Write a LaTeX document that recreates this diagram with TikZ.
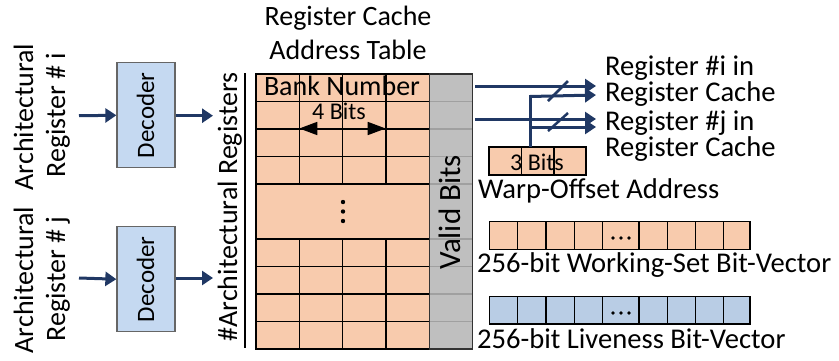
\documentclass[tikz,border=0pt]{standalone}
\usepackage{fontspec}
\setmainfont{Carlito}
\usetikzlibrary{arrows.meta}
\definecolor{orng}{HTML}{F8CBAD}
\definecolor{lblue}{HTML}{C5D9F1}
\definecolor{vblue}{HTML}{B9CDE5}
\definecolor{gry}{HTML}{BFBFBF}
\definecolor{gline}{HTML}{A0A0A0}
\definecolor{navy}{HTML}{203864}
\begin{document}
\begin{tikzpicture}[x=1pt,y=-1pt,
  txt/.style={font=\fontsize{28}{28}\selectfont, inner sep=0, outer sep=0},
  rtxt/.style={font=\fontsize{28.6}{28.6}\selectfont, inner sep=0, outer sep=0},
  smalltxt/.style={font=\fontsize{24}{24}\selectfont, inner sep=0, outer sep=0},
  dec/.style={draw=black!60, fill=lblue, line width=1.3pt, minimum width=58pt, minimum height=105pt, inner sep=0},
  bluearrow/.style={draw=navy, line width=3pt, -{Triangle[length=11pt,width=14pt]}},
  bluewire/.style={draw=navy, line width=3pt},
  cell/.style={draw=black, line width=1.6pt},
  blackarrow/.style={draw=black, line width=1.6pt, {Triangle[length=18pt,width=13pt]}-{Triangle[length=18pt,width=13pt]}}]
\useasboundingbox (0,0) rectangle (839,360);

% ---------- left inputs ----------
\node[txt, rotate=90, anchor=base] (a1) at (33,117) {Architectural};
\node[txt, rotate=90, anchor=base] (r1) at (65,115) {Register \# i};
\node[txt, rotate=90, anchor=base] (a2) at (33,280) {Architectural};
\node[txt, rotate=90, anchor=base] (r2) at (65,279) {Register \# j};

\node[dec] (d1) at (146,115.3) {};
\node[dec] (d2) at (146,279.2) {};
\node[font=\fontsize{25}{25}\selectfont, rotate=90, anchor=base, inner sep=0] at (154,115.3) {Decoder};
\node[font=\fontsize{25}{25}\selectfont, rotate=90, anchor=base, inner sep=0] at (154,279.2) {Decoder};

\coordinate (in1) at (79,115.7);
\coordinate (in2) at (79,278);
\coordinate (tb1) at (213,115.7);
\coordinate (tb2) at (213,278);
\draw[bluearrow] (in1) -- (d1.west);
\draw[bluearrow] (in2) -- (d2.west);
\draw[bluearrow] (d1.east |- in1) -- (tb1);
\draw[bluearrow] (d2.east |- in2) -- (tb2);

% ---------- table ----------
\node[txt, rotate=90, anchor=base] (archregs) at (237,207) {\#Architectural Registers};
\coordinate (vl1) at (245,73);
\coordinate (vl2) at (245,348);
\draw[line width=1.3pt] (vl1) -- (vl2);

\node[txt, anchor=base] (t1) at (348,25) {Register Cache};
\node[txt, anchor=base] (t2) at (348,59) {Address Table};

\fill[orng] (256,74) rectangle (429.3,349);
\fill[gry] (429.3,74) rectangle (472.3,349);
% grey column separators
\foreach \y in {101.5,129,156.5,184,239,266.5,294,321.5}
  \draw[gline, line width=1.3pt] (429.3,\y) -- (472.3,\y);
% orange grid rows
\foreach \y in {101.5,129,156.5,184,239,266.5,294,321.5}
  \draw[cell] (256,\y) -- (429.3,\y);
\foreach \x in {299.3,342.5,385.7} {
  \draw[cell] (\x,74) -- (\x,184);
  \draw[cell] (\x,239) -- (\x,349);
}
\draw[cell] (256,74) rectangle (429.3,349);
\draw[draw=black!80, line width=1.6pt] (429.3,74) rectangle (472.3,349);
\node[txt, anchor=base] (bank) at (342,95) {Bank Number};
\node[smalltxt, anchor=base] (fourbits) at (339,119) {4 Bits};
\coordinate (fb1) at (299.3,128.5);
\coordinate (fb2) at (385.7,128.5);
\draw[blackarrow] (fb1) -- (fb2);
\foreach \y in {202,211.5,221} \fill (343,\y) circle (2.2pt);
\node[font=\fontsize{31}{31}\selectfont, rotate=90, anchor=base, inner sep=0] (valid) at (460,212.5) {Valid Bits};

% ---------- outputs ----------
\coordinate (o1s) at (475,86);
\coordinate (o2s) at (475,119);
\coordinate (o1e) at (596,86);
\coordinate (o2e) at (596,119);
\coordinate (w1e) at (596,95);
\coordinate (w2e) at (596,127);
\node[draw=black, line width=1.3pt, fill=orng, minimum width=97pt, minimum height=28pt, inner sep=0] (wob) at (537.5,161) {};
\draw[line width=1.3pt] (521.7,147) -- (521.7,175) (554,147) -- (554,175);
\node[smalltxt, anchor=base] (threebits) at (537,170) {3 Bits};
\coordinate (wtop) at (530,147);
\draw[bluearrow] (o1s) -- (o1e);
\draw[bluearrow] (o2s) -- (o2e);
\draw[bluewire] (wtop) -- (530,95);
\draw[bluearrow] (530,96.5) -- (w1e);
\draw[bluearrow] (530,127) -- (w2e);
\draw[navy, line width=2.5pt] (548,101) -- (568,81);
\draw[navy, line width=2.5pt] (548,131) -- (568,113);

\node[font=\fontsize{28.6}{22.4}\selectfont, inner sep=0, align=left, anchor=base west] (ri1) at (605,101.7) {Register \#i in\\Register Cache};
\node[font=\fontsize{28.6}{24.3}\selectfont, inner sep=0, align=left, anchor=base west] (ri2) at (605,156) {Register \#j in\\Register Cache};
\node[rtxt, anchor=base west] (woa) at (478,198) {Warp-Offset Address};

% ---------- bit vectors ----------
\fill[orng] (489.3,221.7) rectangle (750,249.3);
\fill[vblue] (489.3,296.7) rectangle (750,324);
\foreach \x in {517.7,546,574.3,602.7,639,667.3,695.7,723.3} {
  \draw[line width=1.3pt] (\x,221.7) -- (\x,249.3);
  \draw[line width=1.3pt] (\x,296.7) -- (\x,324);
}
\draw[line width=1.3pt] (489.3,221.7) rectangle (750,249.3);
\draw[line width=1.3pt] (489.3,296.7) rectangle (750,324);
\foreach \x in {613,621,629} {
  \fill (\x,238) circle (1.8pt);
  \fill (\x,313) circle (1.8pt);
}
\node[rtxt, anchor=base west] (wsv) at (477,272.7) {256-bit Working-Set Bit-Vector};
\node[rtxt, anchor=base west] (lv) at (477,348) {256-bit Liveness Bit-Vector};
\end{tikzpicture}
\end{document}
